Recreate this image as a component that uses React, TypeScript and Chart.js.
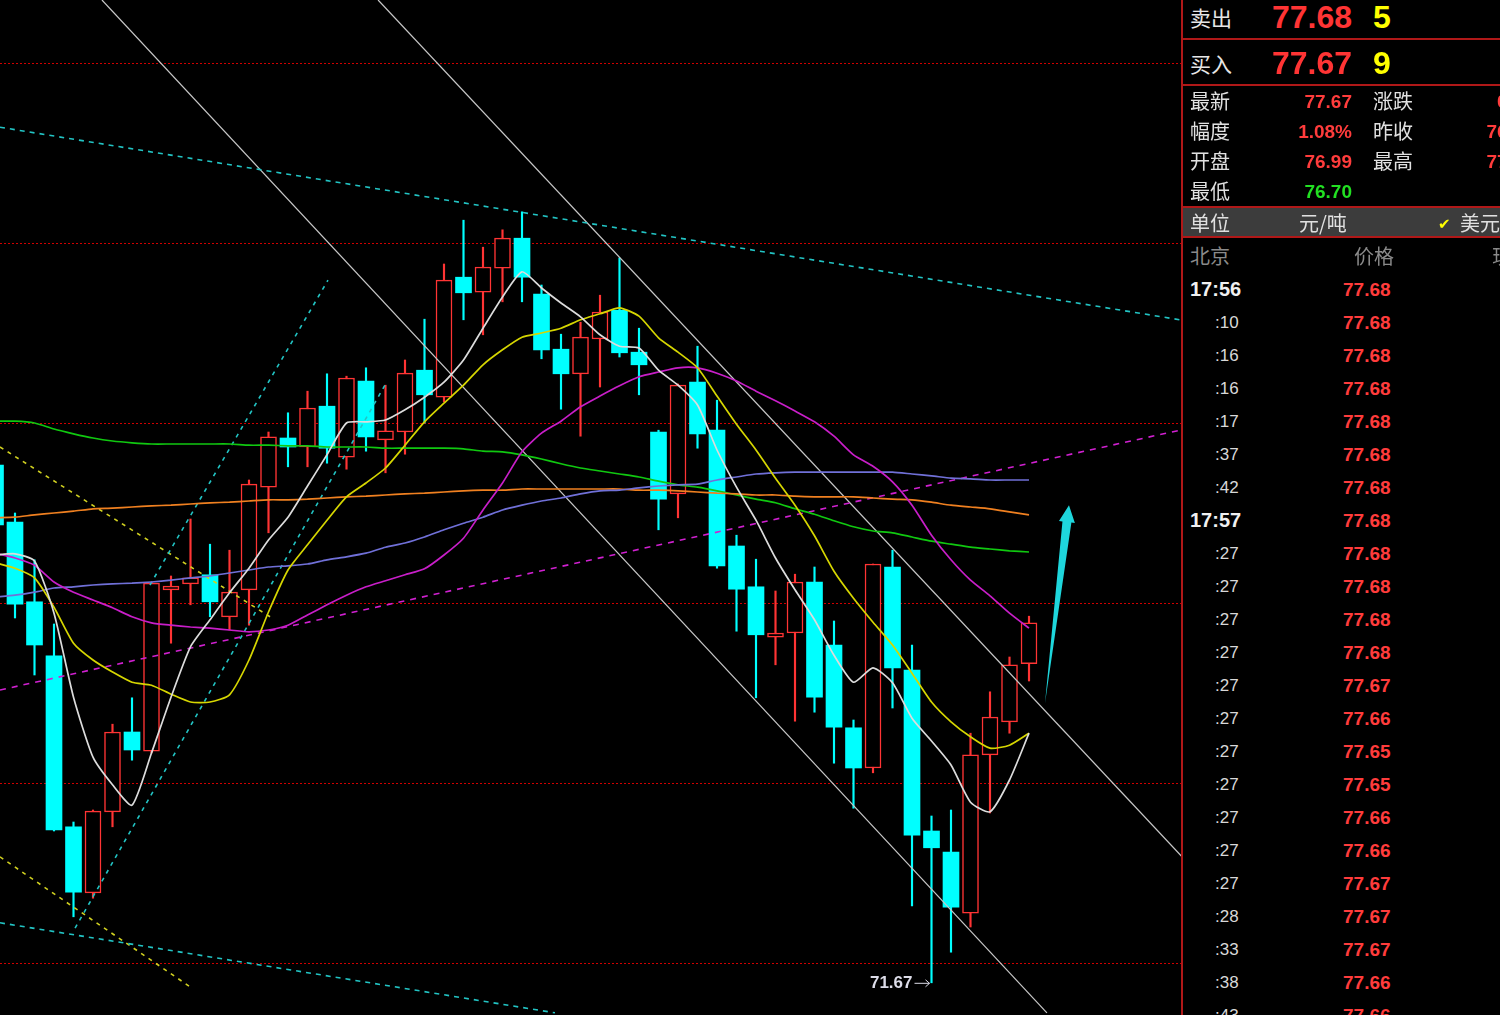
import React, { useEffect, useRef } from 'react';
import { Chart, registerables } from 'chart.js';
Chart.register(...registerables);

// ---------- DATA ----------
const candleIdx = [-1,0,1,2,3,4,5,6,7,8,9,10,11,12,13,14,15,16,17,18,19,20,21,22,23,24,25,26,27,28,29,30,31,32,33,34,35,36,37,38,39,40,41,42,43,44,45,46,47,48,49,50,51,52];
const opens = [80.30,79.35,78.02,77.12,74.27,73.17,74.52,75.85,75.53,78.22,78.32,78.47,77.77,78.22,79.93,80.75,80.60,81.28,80.43,81.70,80.72,80.85,81.88,81.43,83.43,83.18,83.58,84.08,83.15,82.23,81.82,82.40,82.88,82.18,80.85,79.82,81.68,80.88,78.95,78.27,77.43,77.50,78.35,77.30,75.92,75.25,78.60,76.88,74.20,73.85,72.83,75.47,76.02,76.99];
const highs = [80.40,79.50,78.72,77.65,74.35,74.55,75.98,76.42,78.35,78.45,79.40,78.98,78.88,80.05,80.85,81.17,81.53,81.82,81.78,81.92,81.63,82.05,82.73,83.65,84.38,83.93,84.22,84.52,83.30,82.48,82.68,83.13,83.75,82.58,80.88,81.65,82.28,81.38,79.13,78.73,78.20,78.48,78.60,77.70,76.05,78.65,78.88,77.30,74.45,74.55,75.83,76.52,77.10,77.78];
const lows = [79.20,77.75,76.80,74.20,72.77,73.08,74.27,75.38,75.50,77.33,77.97,77.77,77.55,77.63,79.17,80.27,80.27,80.33,80.23,80.53,80.17,80.48,81.00,81.35,82.72,82.47,83.02,83.02,82.07,81.23,80.78,81.60,82.10,81.47,79.22,79.42,80.58,78.58,77.53,76.42,76.97,76.03,76.18,75.33,74.58,75.17,76.25,72.95,71.67,72.18,72.60,74.50,75.83,76.70];
const closes = [79.30,77.98,77.30,74.22,73.18,74.53,75.85,75.55,78.33,78.28,78.42,78.02,78.18,79.98,80.77,80.60,81.25,80.58,81.75,80.77,80.87,81.83,81.47,83.38,83.17,83.60,84.08,83.43,82.22,81.82,82.43,82.85,82.17,81.97,79.73,81.63,80.82,78.62,78.23,77.47,77.50,78.35,76.43,75.93,75.25,78.65,76.92,74.13,73.92,72.93,75.47,76.10,76.97,77.67];

const ma5 = [78.80,78.82,78.70,77.83,76.43,75.43,74.97,74.63,75.50,76.43,77.27,77.72,78.17,78.58,79.05,79.43,79.95,80.47,81.00,81.02,81.05,81.22,81.43,81.68,82.05,82.58,83.10,83.52,83.25,83.00,82.77,82.47,82.28,82.25,81.88,81.63,81.30,80.55,79.93,79.38,78.75,78.22,77.72,77.13,76.68,76.92,76.67,76.08,75.70,75.30,74.68,74.52,75.05,75.83];
const ma10 = [78.67,78.58,78.42,77.93,77.33,77.05,76.85,76.68,76.63,76.48,76.35,76.35,76.47,77.05,77.85,78.55,78.97,79.38,79.77,80.00,80.25,80.63,81.02,81.33,81.63,81.97,82.22,82.43,82.50,82.58,82.72,82.82,82.92,82.78,82.42,82.18,81.92,81.45,80.98,80.55,80.08,79.63,79.12,78.53,78.08,77.68,77.30,76.83,76.35,76.02,75.77,75.58,75.63,75.83];
const ma20 = [78.83,78.75,78.63,78.35,78.18,78.05,77.92,77.77,77.67,77.63,77.60,77.58,77.55,77.52,77.55,77.63,77.80,77.97,78.13,78.27,78.37,78.47,78.57,78.80,79.08,79.55,80.00,80.52,80.83,81.03,81.27,81.45,81.62,81.77,81.85,81.92,81.92,81.83,81.70,81.53,81.37,81.20,81.02,80.78,80.47,80.28,80.02,79.63,79.13,78.72,78.38,78.12,77.83,77.58];
const ma40 = [78.10,78.13,78.18,78.25,78.27,78.30,78.32,78.33,78.35,78.38,78.42,78.45,78.50,78.55,78.60,78.62,78.65,78.72,78.77,78.83,78.93,79.00,79.10,79.22,79.33,79.43,79.55,79.63,79.70,79.75,79.82,79.87,79.88,79.92,79.95,79.97,79.98,80.05,80.10,80.15,80.17,80.18,80.18,80.18,80.18,80.18,80.18,80.15,80.12,80.08,80.07,80.05,80.05,80.05];
const ma60 = [79.42,79.43,79.47,79.50,79.53,79.57,79.58,79.60,79.62,79.63,79.65,79.67,79.68,79.70,79.72,79.72,79.73,79.75,79.77,79.78,79.80,79.82,79.83,79.85,79.87,79.88,79.88,79.90,79.90,79.90,79.90,79.90,79.90,79.88,79.88,79.87,79.85,79.83,79.82,79.80,79.80,79.78,79.77,79.77,79.77,79.75,79.73,79.72,79.68,79.63,79.60,79.57,79.52,79.47];
const ma120 = [81.03,81.03,81.00,80.90,80.82,80.75,80.70,80.67,80.65,80.65,80.65,80.65,80.65,80.63,80.63,80.62,80.62,80.60,80.60,80.60,80.58,80.58,80.58,80.58,80.57,80.53,80.52,80.47,80.40,80.32,80.25,80.20,80.15,80.10,80.03,79.97,79.93,79.87,79.80,79.73,79.67,79.57,79.48,79.37,79.27,79.20,79.17,79.10,79.03,78.98,78.93,78.90,78.87,78.85];

// trend lines: [index, price] end points
const trendWhite1 = [[4.46, 88.05], [52.92, 71.17]];
const trendWhite2 = [[18.62, 88.05], [59.85, 73.77]];
const trendCyanUpper = [[-0.77, 85.93], [59.74, 82.72]];
const trendCyanLower = [[-0.77, 72.67], [27.69, 71.17]];
const trendCyanA = [[6.92, 78.30], [16.05, 83.38]];
const trendCyanB = [[3.08, 72.58], [18.97, 81.63]];
const trendMagenta = [[-0.77, 76.55], [59.74, 80.88]];
const trendYellow1 = [[-0.77, 80.60], [13.18, 77.75]];
const trendYellow2 = [[-0.77, 73.77], [9.08, 71.58]];

const arrowTail = [52.82, 76.33];
const arrowTip = [54.05, 79.63];
const lowMarkIndex = 47;
const lowMarkValue = 71.67;

const gridLevels = [72, 75, 78, 81, 84, 87];
const X_MIN = -0.7692;
const X_MAX = 59.846;
const Y_MIN = 71.1333;
const Y_MAX = 88.05;

// panel data
const quoteRows = [
  { l1: '最新', v1: '77.67', c1: '#ff3c3c', l2: '涨跌', v2: '0.83' },
  { l1: '幅度', v1: '1.08%', c1: '#ff3c3c', l2: '昨收', v2: '76.84' },
  { l1: '开盘', v1: '76.99', c1: '#ff3c3c', l2: '最高', v2: '77.78' },
  { l1: '最低', v1: '76.70', c1: '#22e022', l2: '', v2: '' },
];
const tickTimes = ['17:56', ':10', ':16', ':16', ':17', ':37', ':42', '17:57', ':27', ':27', ':27', ':27', ':27', ':27', ':27', ':27', ':27', ':27', ':27', ':28', ':33', ':38', ':43'];
const tickPrices = ['77.68', '77.68', '77.68', '77.68', '77.68', '77.68', '77.68', '77.68', '77.68', '77.68', '77.68', '77.68', '77.67', '77.66', '77.65', '77.65', '77.66', '77.66', '77.67', '77.67', '77.67', '77.66', '77.66'];

// ---------- helpers ----------
const RED = '#ff3434';
const CYAN = '#00ffff';

const lineDs = (pts: number[][], color: string, dash: number[], width: number, order: number) => ({
  type: 'line',
  data: pts.map((p) => ({ x: p[0], y: p[1] })),
  borderColor: color,
  borderWidth: width,
  borderDash: dash,
  pointRadius: 0,
  fill: false,
  tension: 0,
  order,
});

const maDs = (vals: number[], color: string, order: number) => ({
  type: 'line',
  data: vals.map((v, i) => ({ x: candleIdx[i], y: v })),
  borderColor: color,
  borderWidth: 1.7,
  pointRadius: 0,
  fill: false,
  tension: 0.2,
  order,
});

const gridPlugin = {
  id: 'redGrid',
  beforeDatasetsDraw(chart: any) {
    const { ctx, chartArea, scales } = chart;
    ctx.save();
    ctx.strokeStyle = '#d00000';
    ctx.lineWidth = 1;
    ctx.setLineDash([2, 2]);
    for (const lv of gridLevels) {
      const py = Math.round(scales.y.getPixelForValue(lv)) + 0.5;
      ctx.beginPath();
      ctx.moveTo(chartArea.left, py);
      ctx.lineTo(chartArea.right, py);
      ctx.stroke();
    }
    ctx.restore();
  },
};

const annotPlugin = {
  id: 'annot',
  afterDatasetsDraw(chart: any) {
    const { ctx, scales } = chart;
    const xs = scales.x, ys = scales.y;
    // arrow
    const tx = xs.getPixelForValue(arrowTip[0]), ty = ys.getPixelForValue(arrowTip[1]);
    const bx = xs.getPixelForValue(arrowTail[0]), by = ys.getPixelForValue(arrowTail[1]);
    const dx = tx - bx, dy = ty - by;
    const len = Math.hypot(dx, dy);
    const ux = dx / len, uy = dy / len;
    const nx = -uy, ny = ux;
    const cx = tx - ux * 17, cy = ty - uy * 17;
    ctx.save();
    ctx.fillStyle = '#1ed6dc';
    ctx.beginPath();
    ctx.moveTo(bx, by);
    ctx.lineTo(cx - nx * 4.5, cy - ny * 4.5);
    ctx.lineTo(cx - nx * 8, cy - ny * 8);
    ctx.lineTo(tx, ty);
    ctx.lineTo(cx + nx * 8, cy + ny * 8);
    ctx.lineTo(cx + nx * 4.5, cy + ny * 4.5);
    ctx.closePath();
    ctx.fill();
    // low marker
    const lx = xs.getPixelForValue(lowMarkIndex);
    const ly = ys.getPixelForValue(lowMarkValue);
    ctx.fillStyle = '#dcdce8';
    ctx.font = 'bold 17px "Liberation Sans", Arial, sans-serif';
    ctx.textAlign = 'right';
    ctx.textBaseline = 'middle';
    ctx.fillText(String(lowMarkValue.toFixed(2)), lx - 19, ly + 1);
    ctx.strokeStyle = '#dcdce8';
    ctx.lineWidth = 1;
    ctx.beginPath();
    ctx.moveTo(lx - 17, ly + 0.5);
    ctx.lineTo(lx - 2, ly + 0.5);
    ctx.moveTo(lx - 6, ly - 3);
    ctx.lineTo(lx - 2, ly + 0.5);
    ctx.lineTo(lx - 6, ly + 4);
    ctx.stroke();
    ctx.restore();
  },
};

function CandleChart() {
  const ref = useRef<HTMLCanvasElement | null>(null);
  useEffect(() => {
    if (!ref.current) return;
    const up = opens.map((o, i) => closes[i] >= o);
    const chart = new Chart(ref.current, {
      type: 'bar',
      data: {
        datasets: [
          {
            type: 'bar',
            data: candleIdx.map((x, i) => ({ x, y: [lows[i], highs[i]] })),
            backgroundColor: up.map((u) => (u ? RED : CYAN)),
            borderWidth: 0,
            barThickness: 1.5,
            grouped: false,
            order: 30,
          },
          {
            type: 'bar',
            data: candleIdx.map((x, i) => ({ x, y: [opens[i], closes[i]] })),
            backgroundColor: up.map((u) => (u ? '#000000' : CYAN)),
            borderColor: up.map((u) => (u ? RED : CYAN)),
            borderWidth: up.map((u) => (u ? 1.5 : 0)),
            borderSkipped: false,
            barThickness: 16,
            grouped: false,
            order: 29,
          },
          lineDs(trendWhite1, '#c8c8c8', [], 1.2, 20),
          lineDs(trendWhite2, '#c8c8c8', [], 1.2, 20),
          lineDs(trendCyanUpper, '#22c4c4', [5, 5], 1.6, 19),
          lineDs(trendCyanLower, '#22c4c4', [5, 5], 1.6, 19),
          lineDs(trendCyanA, '#22c4c4', [4, 5], 1.6, 19),
          lineDs(trendCyanB, '#22c4c4', [4, 5], 1.6, 19),
          lineDs(trendMagenta, '#d020d0', [6, 6], 1.6, 19),
          lineDs(trendYellow1, '#d0d020', [4, 5], 1.6, 19),
          lineDs(trendYellow2, '#d0d020', [4, 5], 1.6, 19),
          maDs(ma120, '#10c810', 8),
          maDs(ma60, '#f08020', 7),
          maDs(ma40, '#7070d8', 6),
          maDs(ma20, '#c81ec8', 5),
          maDs(ma10, '#d6d600', 4),
          maDs(ma5, '#dcdcdc', 3),
        ],
      } as any,
      options: {
        responsive: false,
        animation: false,
        events: [],
        layout: { padding: 0 },
        plugins: { legend: { display: false }, tooltip: { enabled: false } },
        scales: {
          x: { type: 'linear', min: X_MIN, max: X_MAX, display: false, offset: false },
          y: { type: 'linear', min: Y_MIN, max: Y_MAX, display: false },
        },
      } as any,
      plugins: [gridPlugin, annotPlugin],
    });
    return () => chart.destroy();
  }, []);
  return <canvas ref={ref} width={1182} height={1015} style={{ display: 'block' }} />;
}

const CJK = '"Noto Sans CJK SC", "Noto Sans", sans-serif';
const NUM = '"Liberation Sans", Arial, sans-serif';

function T(props: { x: number; cy: number; size: number; color: string; text: string; bold?: boolean; right?: boolean; font?: string }) {
  const h = props.size + 8;
  const style: any = {
    position: 'absolute',
    top: props.cy - h / 2,
    height: h,
    lineHeight: h + 'px',
    fontSize: props.size,
    color: props.color,
    fontFamily: props.font || CJK,
    fontWeight: props.bold ? 'bold' : 'normal',
    whiteSpace: 'nowrap',
  };
  if (props.right) {
    style.left = props.x - 200;
    style.width = 200;
    style.textAlign = 'right';
  } else {
    style.left = props.x;
  }
  return <div style={style}>{props.text}</div>;
}

function Panel() {
  const lineRed = '#b01818';
  return (
    <>
      <div style={{ position: 'absolute', left: 1181, top: 0, width: 2, height: 1015, background: lineRed }} />
      <div style={{ position: 'absolute', left: 1183, top: 38, width: 317, height: 2, background: lineRed }} />
      <div style={{ position: 'absolute', left: 1183, top: 84, width: 317, height: 2, background: lineRed }} />
      <div style={{ position: 'absolute', left: 1183, top: 206, width: 317, height: 32, background: '#3c3c3c', borderTop: '2px solid ' + lineRed, borderBottom: '2px solid ' + lineRed, boxSizing: 'border-box' }} />

      <T x={1190} cy={17} size={21} color="#e6e6e6" text="卖出" />
      <T x={1272} cy={17} size={32} color={RED} bold font={NUM} text="77.68" />
      <T x={1373} cy={17} size={32} color="#ffff00" bold font={NUM} text="5" />
      <T x={1190} cy={63} size={21} color="#e6e6e6" text="买入" />
      <T x={1272} cy={63} size={32} color={RED} bold font={NUM} text="77.67" />
      <T x={1373} cy={63} size={32} color="#ffff00" bold font={NUM} text="9" />

      {quoteRows.map((r, k) => {
        const cy = 101 + k * 30;
        return (
          <React.Fragment key={k}>
            <T x={1190} cy={cy} size={20} color="#e0e0e0" text={r.l1} />
            <T x={1352} cy={cy} size={19} color={r.c1} bold font={NUM} right text={r.v1} />
            {r.l2 ? <T x={1373} cy={cy} size={20} color="#e0e0e0" text={r.l2} /> : null}
            {r.v2 ? <T x={1534} cy={cy} size={19} color="#ff3c3c" bold font={NUM} right text={r.v2} /> : null}
          </React.Fragment>
        );
      })}

      <T x={1190} cy={223} size={20} color="#e0e0e0" text="单位" />
      <T x={1299} cy={223} size={20} color="#e0e0e0" text="元/吨" />
      <T x={1438} cy={224} size={15} color="#ffff00" font='"DejaVu Sans", sans-serif' text="✔" />
      <T x={1460} cy={223} size={20} color="#e0e0e0" text="美元" />

      <T x={1190} cy={256} size={20} color="#8a8a8a" text="北京" />
      <T x={1354} cy={256} size={20} color="#8a8a8a" text="价格" />
      <T x={1492} cy={256} size={20} color="#8a8a8a" text="现手" />

      {tickTimes.map((t, k) => {
        const cy = 289 + k * 33;
        const full = t.length > 3;
        return (
          <React.Fragment key={'t' + k}>
            {full ? (
              <T x={1190} cy={cy} size={20} color="#f0f0f0" bold font={NUM} text={t} />
            ) : (
              <T x={1215} cy={cy} size={17} color="#d8d8d8" font={NUM} text={t} />
            )}
            <T x={1343} cy={cy} size={19} color="#ff3c3c" bold font={NUM} text={tickPrices[k]} />
          </React.Fragment>
        );
      })}
    </>
  );
}

export default function App() {
  return (
    <div style={{ position: 'fixed', left: 0, top: 0, width: 1500, height: 1015, background: '#000', overflow: 'hidden' }}>
      <div style={{ position: 'absolute', left: 0, top: 0 }}>
        <CandleChart />
      </div>
      <Panel />
    </div>
  );
}
